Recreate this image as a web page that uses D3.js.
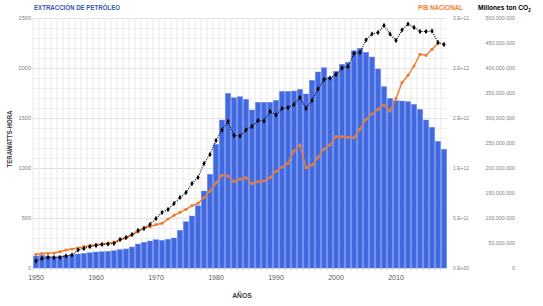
<!DOCTYPE html>
<html>
<head>
<meta charset="utf-8">
<script src="https://cdn.jsdelivr.net/npm/d3@7"></script>
<style>
  body { margin: 0; background: #fff; }
  text { font-family: "Liberation Sans", Arial, sans-serif; }
</style>
</head>
<body>
<div id="chart"></div>
<script>
var width = 543,
    height = 306;

// years on the category axis
var years = d3.range(1950, 2019);
var yearLabels = [1950, 1960, 1970, 1980, 1990, 2000, 2010];

// oil extraction, TWh (bars, left axis)
var petroleo = [120, 127, 120, 113, 120, 127, 133, 140, 147, 153,
    160, 163, 167, 173, 183, 190, 210, 240, 257, 270,
    283, 277, 287, 300, 377, 463, 520, 623, 770, 937,
    1237, 1480, 1747, 1703, 1713, 1687, 1580, 1657, 1657, 1657,
    1677, 1767, 1767, 1770, 1787, 1740, 1877, 1960, 2003, 1907,
    1967, 2037, 2057, 2173, 2197, 2157, 2110, 1990, 1813, 1697,
    1673, 1670, 1663, 1637, 1587, 1480, 1407, 1267, 1187];

// GDP, in 1E+12 (orange line, 1950-2017)
var pib = [0.137, 0.143, 0.147, 0.150, 0.163, 0.180, 0.190, 0.200, 0.213, 0.223,
    0.233, 0.240, 0.247, 0.258, 0.280, 0.300, 0.330, 0.362, 0.403, 0.413,
    0.433, 0.447, 0.490, 0.527, 0.557, 0.587, 0.623, 0.647, 0.703, 0.770,
    0.850, 0.927, 0.920, 0.863, 0.890, 0.903, 0.843, 0.863, 0.870, 0.903,
    0.967, 1.010, 1.047, 1.170, 1.230, 1.003, 1.030, 1.103, 1.190, 1.230,
    1.313, 1.313, 1.307, 1.303, 1.390, 1.487, 1.540, 1.587, 1.630, 1.570,
    1.697, 1.853, 1.927, 2.020, 2.137, 2.127, 2.187, 2.247];

// CO2, millions of tonnes (black dotted line)
var co2 = [14, 19, 21, 21, 21, 24, 26, 36, 39, 43,
    45, 47, 48, 49, 57, 61, 67, 75, 79, 87,
    99, 111, 117, 129, 141, 151, 169, 181, 209, 227,
    255, 276, 293, 265, 264, 276, 283, 295, 294, 313,
    306, 319, 321, 327, 341, 319, 335, 358, 377, 380,
    387, 400, 403, 429, 431, 456, 468, 471, 485, 468,
    455, 476, 488, 481, 473, 473, 474, 451, 447];

var leftTicks = [0, 500, 1000, 1500, 2000, 2500];
var pibTicks = [0, 0.5, 1, 1.5, 2, 2.5];
var pibLabels = ["0.E+00", "5.E+11", "1.E+12", "2.E+12", "2.E+12", "3.E+12"];
var co2Ticks = [0, 50, 100, 150, 200, 250, 300, 350, 400, 450, 500];

var svg = d3.select("#chart").append("svg")
    .attr("width", width)
    .attr("height", height);

var x = d3.scaleBand()
    .domain(years)
    .range([33, 447])
    .paddingInner(0.12)
    .paddingOuter(0.06);

var y = d3.scaleLinear().domain([0, 2500]).range([268, 18]);
var yPib = d3.scaleLinear().domain([0, 2.5]).range([268, 18]);
var yCo2 = d3.scaleLinear().domain([0, 500]).range([268, 18]);

var half = x.step() * x.paddingInner() / 2;

// grid
var grid = svg.append("g");
grid.selectAll(".hg")
    .data(d3.range(0, 2501, 100))
    .enter().append("line")
    .attr("x1", 33).attr("x2", 447)
    .attr("y1", function(d) { return y(d) + 0.5; })
    .attr("y2", function(d) { return y(d) + 0.5; })
    .attr("stroke", function(d) { return d % 500 == 0 ? "#d9d9d9" : "#ececec"; })
    .attr("stroke-width", 0.8);
grid.selectAll(".vg")
    .data(years)
    .enter().append("line")
    .attr("x1", function(d) { return x(d) - half; })
    .attr("x2", function(d) { return x(d) - half; })
    .attr("y1", 18).attr("y2", 271)
    .attr("stroke", "#e3e3e3")
    .attr("stroke-width", 0.8);

// bars
svg.append("g")
    .selectAll("rect")
    .data(years)
    .enter().append("rect")
    .attr("x", function(d) { return x(d); })
    .attr("width", x.bandwidth())
    .attr("y", function(d, i) { return y(petroleo[i]); })
    .attr("height", function(d, i) { return y(0) - y(petroleo[i]); })
    .attr("fill", "#4169e1")
    .attr("stroke", "#6d8cec")
    .attr("stroke-width", 0.4);

var cx = function(d) { return x(d) + x.bandwidth() / 2; };

// PIB line
var pibYears = years.slice(0, pib.length);
var pibLine = d3.line()
    .x(function(d) { return cx(d); })
    .y(function(d, i) { return yPib(pib[i]); });
svg.append("path")
    .datum(pibYears)
    .attr("d", pibLine)
    .attr("fill", "none")
    .attr("stroke", "#ed7d31")
    .attr("stroke-width", 1.4);
svg.append("g")
    .selectAll("circle")
    .data(pibYears)
    .enter().append("circle")
    .attr("cx", cx)
    .attr("cy", function(d, i) { return yPib(pib[i]); })
    .attr("r", 1.6)
    .attr("fill", "#ed7d31");

// CO2 line
var co2Line = d3.line()
    .x(function(d) { return cx(d); })
    .y(function(d, i) { return yCo2(co2[i]); });
svg.append("path")
    .datum(years)
    .attr("d", co2Line)
    .attr("fill", "none")
    .attr("stroke", "#000")
    .attr("stroke-width", 1.1)
    .attr("stroke-dasharray", "1,1.3");
svg.append("g")
    .selectAll("path")
    .data(years)
    .enter().append("path")
    .attr("d", d3.symbol().type(d3.symbolDiamond).size(9))
    .attr("transform", function(d, i) { return "translate(" + cx(d) + "," + yCo2(co2[i]) + ")"; })
    .attr("fill", "#000");

// left axis
svg.append("g")
    .selectAll("text")
    .data(leftTicks)
    .enter().append("text")
    .attr("x", 31)
    .attr("y", function(d) { return y(d) + 2; })
    .attr("text-anchor", "end")
    .attr("font-size", 5.6)
    .attr("fill", "#7f7f7f")
    .text(function(d) { return d; });

// year ticks and labels
svg.append("g")
    .selectAll("line")
    .data(years)
    .enter().append("line")
    .attr("x1", function(d) { return x(d) - half; })
    .attr("x2", function(d) { return x(d) - half; })
    .attr("y1", 268).attr("y2", 271)
    .attr("stroke", "#d0d0d0")
    .attr("stroke-width", 0.6);
svg.append("g")
    .selectAll("text")
    .data(yearLabels)
    .enter().append("text")
    .attr("x", cx)
    .attr("y", 280)
    .attr("text-anchor", "middle")
    .attr("font-size", 7)
    .attr("fill", "#595959")
    .text(function(d) { return d; });

// PIB axis
svg.append("g")
    .selectAll("text")
    .data(pibTicks)
    .enter().append("text")
    .attr("x", 453)
    .attr("y", function(d) { return yPib(d) + 1.8; })
    .attr("font-size", 5)
    .attr("fill", "#7f7f7f")
    .text(function(d, i) { return pibLabels[i]; });

// CO2 axis
var fmt = d3.format(",");
svg.append("g")
    .selectAll("text")
    .data(co2Ticks)
    .enter().append("text")
    .attr("x", 515)
    .attr("y", function(d) { return yCo2(d) + 2; })
    .attr("text-anchor", "end")
    .attr("font-size", 5.3)
    .attr("fill", "#7f7f7f")
    .text(function(d) { return fmt(d * 1e6); });

// titles
svg.append("text")
    .attr("x", 34).attr("y", 10)
    .attr("font-size", 7.2).attr("font-weight", "bold")
    .attr("fill", "#3358b0")
    .attr("textLength", 86).attr("lengthAdjust", "spacingAndGlyphs")
    .text("EXTRACCIÓN DE PETRÓLEO");
svg.append("text")
    .attr("x", 418).attr("y", 10)
    .attr("font-size", 7.2).attr("font-weight", "bold")
    .attr("fill", "#ed7d31")
    .attr("textLength", 45).attr("lengthAdjust", "spacingAndGlyphs")
    .text("PIB NACIONAL");
var co2Title = svg.append("text")
    .attr("x", 478).attr("y", 10)
    .attr("font-size", 6.6).attr("font-weight", "bold")
    .attr("fill", "#000");
co2Title.append("tspan").text("Millones ton CO");
co2Title.append("tspan").attr("dy", 1.6).attr("font-size", 4.6).text("2");

svg.append("text")
    .attr("x", 242).attr("y", 298)
    .attr("text-anchor", "middle")
    .attr("font-size", 6.8).attr("font-weight", "bold")
    .attr("fill", "#404040")
    .text("AÑOS");

svg.append("text")
    .attr("transform", "translate(12,139) rotate(-90)")
    .attr("text-anchor", "middle")
    .attr("font-size", 6.4).attr("font-weight", "bold")
    .attr("fill", "#404040")
    .attr("textLength", 57).attr("lengthAdjust", "spacingAndGlyphs")
    .text("TERAWATTS-HORA");
</script>
</body>
</html>
